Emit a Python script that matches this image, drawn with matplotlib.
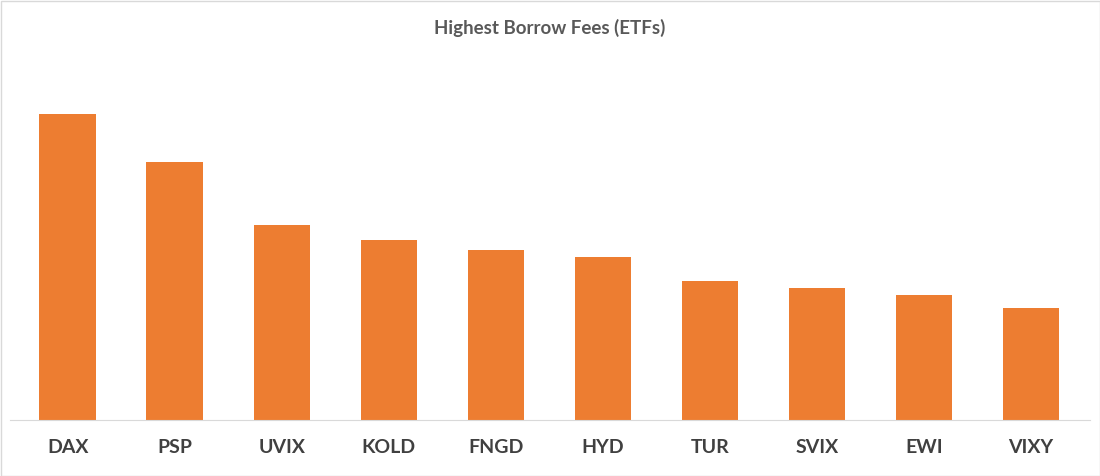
import matplotlib.pyplot as plt
from matplotlib.patches import Rectangle

tickers = ["DAX", "PSP", "UVIX", "KOLD", "FNGD", "HYD", "TUR", "SVIX", "EWI", "VIXY"]
# no axis in the source; relative heights
fees = [306, 258, 195, 180, 170, 163, 139, 132, 125, 112]

plt.rcParams['font.family'] = ['Lato', 'DejaVu Sans']

fig = plt.figure(figsize=(11, 4.76), dpi=100)
ax = fig.add_axes([10 / 1100, 56 / 476, 1080 / 1100, 360 / 476])

ax.bar(range(len(tickers)), fees, width=0.53, color="#ED7D31")
ax.set_xlim(-0.54, 9.55)
ax.set_ylim(0, 360)
ax.set_xticks(range(len(tickers)))
ax.set_xticklabels(tickers, fontsize=14, fontweight="bold", color="#404040")
ax.tick_params(axis="x", length=0, pad=14)
ax.set_yticks([])
for s in ["top", "left", "right"]:
    ax.spines[s].set_visible(False)
ax.spines["bottom"].set_color("#D9D9D9")

fig.text(0.5, 1 - 28 / 476, "Highest Borrow Fees (ETFs)", ha="center", va="center",
         fontsize=13.5, fontweight="bold", color="#595959")
fig.patches.append(Rectangle((0.5 / 1100, 0.5 / 476), 1 - 1 / 1100, 1 - 1 / 476,
                             transform=fig.transFigure, fill=False, edgecolor="#D9D9D9", lw=1))

fig.savefig("out.png", dpi=100)
